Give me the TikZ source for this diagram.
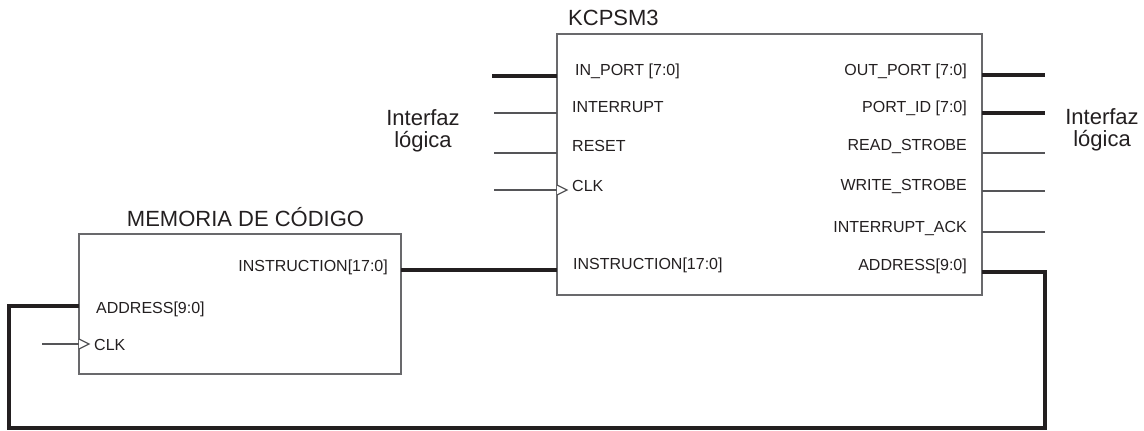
\documentclass[tikz,border=0pt]{standalone}
\usepackage{fontspec}
\setmainfont{Liberation Sans}
\usetikzlibrary{positioning}
\definecolor{inkgray}{RGB}{35,31,32}
\definecolor{boxgray}{RGB}{105,105,108}
\definecolor{pingray}{RGB}{85,85,88}
\begin{document}
\begin{tikzpicture}[x=1pt,y=-1pt,line join=miter,
    block/.style={draw=boxgray,line width=1.5pt,fill=white,inner sep=0pt,outer sep=0pt},
    title/.style={font=\fontsize{22}{24}\selectfont,text=inkgray,inner sep=0pt,anchor=base},
    pinlabel/.style={font=\fontsize{16}{18}\selectfont,text=inkgray,inner sep=0pt},
    bus/.style={draw=inkgray,line width=3.2pt},
    wire/.style={draw=pingray,line width=1.3pt},
    clk/.style={draw=pingray,line width=1.2pt,fill=white}]
    \useasboundingbox (0,0) rectangle (1144,431);
    % blocks
    \node[block,minimum width=425pt,minimum height=261pt] (kcpsm) at (769.5,164.5) {};
    \node[block,minimum width=322pt,minimum height=140pt] (mem) at (240,304) {};
    \node[title,anchor=base west] (kcpsmtitle) at (568,25) {KCPSM3};
    \node[title] (memtitle) at (245.5,226) {MEMORIA DE CÓDIGO};
    \node[title] (ifleft) at (423,125) {Interfaz};
    \node[title] (ifleftb) at (423,147) {lógica};
    \node[title] (ifright) at (1102,124) {Interfaz};
    \node[title] (ifrightb) at (1102,146) {lógica};
    % kcpsm3 inputs
    \node[pinlabel,anchor=base west] (inport) at (575,75) {IN\_PORT [7:0]};
    \coordinate (inportend) at (492,76);
    \draw[bus] (inportend) -- (inportend -| kcpsm.west);
    \foreach \y/\t/\l in {113/112/INTERRUPT,153/151/RESET,190/191/CLK}{
        \node[pinlabel,anchor=base west] (kin-\y) at (572,\t) {\l};
        \coordinate (kinend-\y) at (494,\y);
        \draw[wire] (kinend-\y) -- (kinend-\y -| kcpsm.west);
    }
    \draw[clk] (kcpsm.west |- 0,185) -- ++(10,5) -- ++(-10,5);
    \node[pinlabel,anchor=base west] (kinstr) at (573,269) {INSTRUCTION[17:0]};
    % kcpsm3 outputs
    \foreach \y/\t/\l in {75/75/OUT\_PORT [7:0],113/112/PORT\_ID [7:0]}{
        \node[pinlabel,anchor=base east] (kout-\y) at (967,\t) {\l};
        \coordinate (koutend-\y) at (1045,\y);
        \draw[bus] (koutend-\y -| kcpsm.east) -- (koutend-\y);
    }
    \foreach \y/\t/\l in {153/150/READ\_STROBE,191/190/WRITE\_STROBE,232/232/INTERRUPT\_ACK}{
        \node[pinlabel,anchor=base east] (kout-\y) at (967,\t) {\l};
        \coordinate (koutend-\y) at (1045,\y);
        \draw[wire] (koutend-\y -| kcpsm.east) -- (koutend-\y);
    }
    \node[pinlabel,anchor=base east] (kaddr) at (967,270) {ADDRESS[9:0]};
    % memoria
    \node[pinlabel,anchor=base east] (minstr) at (388,271) {INSTRUCTION[17:0]};
    \node[pinlabel,anchor=base west] (maddr) at (96,313) {ADDRESS[9:0]};
    \node[pinlabel,anchor=base west] (mclk) at (94,350) {CLK};
    \coordinate (mclkend) at (42,344);
    \draw[wire] (mclkend) -- (mclkend -| mem.west);
    \draw[clk] (mem.west |- 0,339) -- ++(10,5) -- ++(-10,5);
    % buses between blocks
    \draw[bus] (mem.east |- 0,270) -- (kcpsm.west |- 0,270);
    \coordinate (loopr) at (1045,428);
    \coordinate (loopl) at (9,428);
    \draw[bus] (kcpsm.east |- 0,272) -| (loopr) -- (loopl) |- (mem.west |- 0,306);
\end{tikzpicture}
\end{document}
